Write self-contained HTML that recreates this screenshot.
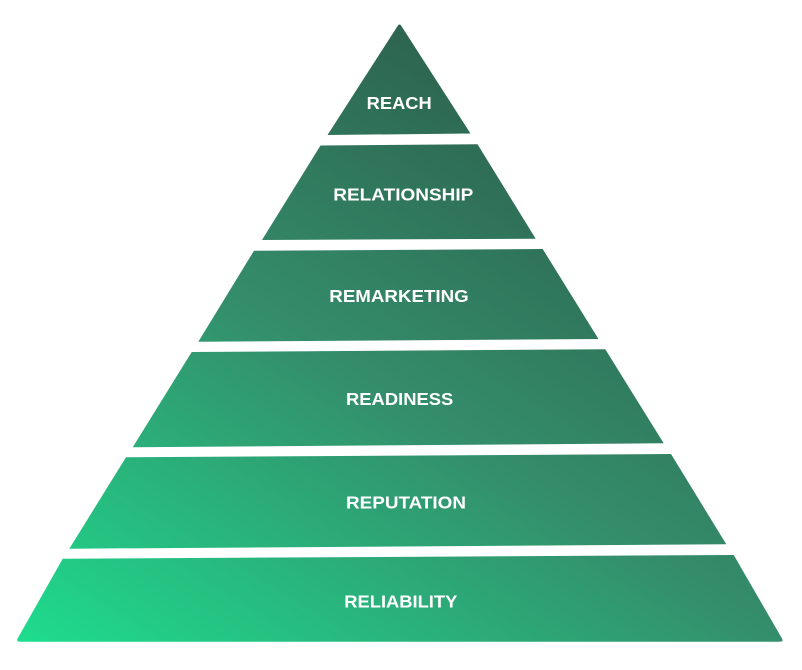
<!DOCTYPE html>
<html>
<head>
<meta charset="utf-8">
<style>
  html,body{margin:0;padding:0;background:#ffffff;}
  body{width:802px;height:670px;overflow:hidden;}
  svg{display:block;}
  text{font-family:"Liberation Sans",sans-serif;font-weight:bold;font-size:17.5px;fill:#ffffff;}
</style>
</head>
<body>
<svg width="802" height="670" viewBox="0 0 802 670" xmlns="http://www.w3.org/2000/svg">
  <defs>
    <linearGradient id="g" gradientUnits="userSpaceOnUse" x1="16" y1="640" x2="394" y2="20">
      <stop offset="0" stop-color="#1edc8e"/>
      <stop offset="0.28" stop-color="#29b47c"/>
      <stop offset="0.55" stop-color="#348e6b"/>
      <stop offset="1" stop-color="#2d6450"/>
    </linearGradient>
  </defs>
  <g fill="url(#g)">
    <path d="M397.3,26.5 Q399.5,22.5 401.7,26.5 L470.5,133.5 L327.5,135 Z"/>
    <polygon points="320.5,145.5 477.5,144.3 535.7,238.7 262,240"/>
    <polygon points="254,250.7 542.7,249 598.5,339 198.3,341.7"/>
    <polygon points="191.7,352 605.3,349.3 663.7,443.3 132.7,447.3"/>
    <polygon points="126,457.3 671,454 726.3,544.3 69.3,548.7"/>
    <path d="M62.7,558.7 L733.7,555 L781.6,637.8 Q784.2,641.7 779.6,641.7 L20.2,641.7 Q15.6,641.7 18,637.8 Z"/>
  </g>
  <text x="366.7" y="109" textLength="65" lengthAdjust="spacingAndGlyphs">REACH</text>
  <text x="333.3" y="200.3" textLength="140" lengthAdjust="spacingAndGlyphs">RELATIONSHIP</text>
  <text x="329.3" y="302" textLength="139.4" lengthAdjust="spacingAndGlyphs">REMARKETING</text>
  <text x="346" y="405" textLength="107.3" lengthAdjust="spacingAndGlyphs">READINESS</text>
  <text x="346" y="508.3" textLength="120" lengthAdjust="spacingAndGlyphs">REPUTATION</text>
  <text x="344.3" y="607.7" textLength="113" lengthAdjust="spacingAndGlyphs">RELIABILITY</text>
</svg>
</body>
</html>
